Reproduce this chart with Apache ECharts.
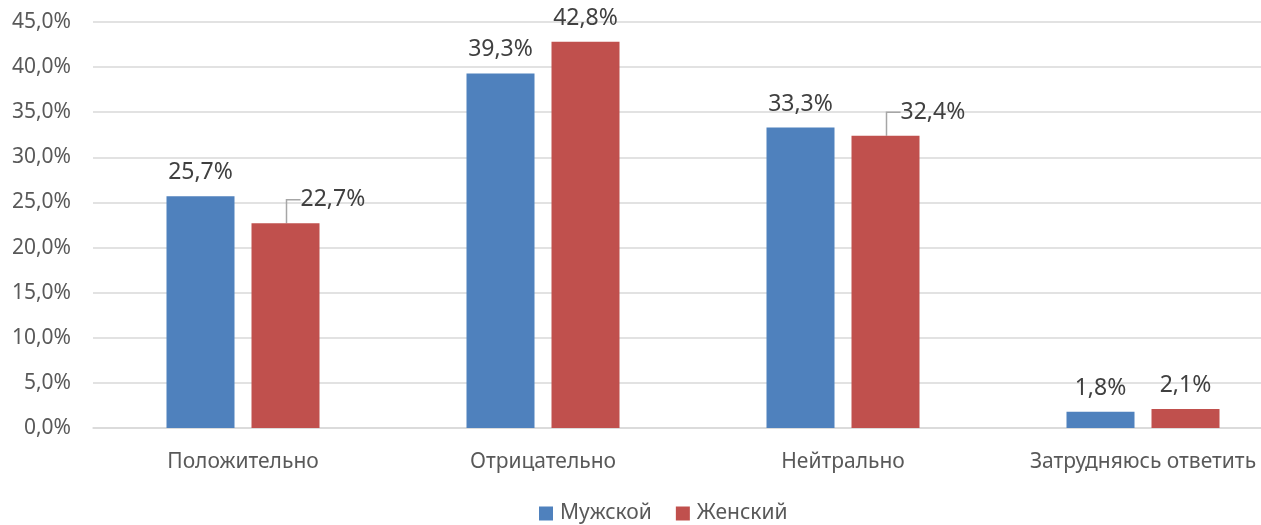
<!DOCTYPE html>
<html>
<head>
<meta charset="utf-8">
<script src="https://cdn.jsdelivr.net/npm/echarts@6/dist/echarts.min.js"></script>
<style>
  html, body { margin: 0; padding: 0; background: #fff; }
  #chart { width: 1261px; height: 525px; }
</style>
</head>
<body>
<div id="chart"></div>
<script>
// данные
const categories = ['Положительно', 'Отрицательно', 'Нейтрально', 'Затрудняюсь ответить']
const male = [25.7, 39.3, 33.3, 1.8]
const female = [22.7, 42.8, 32.4, 2.1]
const seriesNames = ['Мужской', 'Женский']
// подписи, сдвинутые вправо с выноской (как в Excel)
const movedFemale = [0, 2]

const fmt = v => v.toFixed(1).replace('.', ',') + '%'
const font = '"Noto Sans", sans-serif'

const chart = echarts.init(document.getElementById('chart'))

// прозрачный фон нужен, чтобы padding входил в рамку подписи -> выноска идёт слева
const femaleData = female.map((v, i) => movedFemale.includes(i)
  ? {
      value: v,
      label: { align: 'left', padding: [0, 44, 0, 0], backgroundColor: 'rgba(255,255,255,0)' },
      labelLine: { show: true, length2: 14 }
    }
  : { value: v })

const option = {
  animation: false,
  grid: { left: 93, top: 22, bottom: 97, width: 1200, outerBoundsMode: 'none', containLabel: false },
  legend: {
    top: 498,
    left: 534,
    itemWidth: 14,
    itemHeight: 14,
    itemGap: 24,
    icon: 'rect',
    textStyle: { fontFamily: font, fontSize: 21, color: '#595959', padding: [0, 0, 0, 2] }
  },
  xAxis: {
    type: 'category',
    data: categories,
    axisLine: { lineStyle: { color: '#d9d9d9', width: 1.5 } },
    axisTick: { show: false },
    axisLabel: { fontFamily: font, fontSize: 21, color: '#595959', margin: 24 }
  },
  yAxis: {
    type: 'value',
    min: 0,
    max: 45,
    interval: 5,
    axisLine: { show: false },
    axisTick: { show: false },
    splitLine: { lineStyle: { color: '#d9d9d9', width: 1.5 } },
    axisLabel: {
      fontFamily: font, fontSize: 21, color: '#595959', margin: 22,
      formatter: v => v.toFixed(1).replace('.', ',') + '%'
    }
  },
  series: [
    {
      name: seriesNames[0],
      type: 'bar',
      data: male,
      barWidth: 68,
      barGap: '25%',
      itemStyle: { color: '#4F81BD' },
      label: {
        show: true, position: 'top', distance: 12,
        fontFamily: font, fontSize: 23, color: '#404040',
        formatter: p => fmt(p.value)
      }
    },
    {
      name: seriesNames[1],
      type: 'bar',
      data: femaleData,
      barWidth: 68,
      barGap: '25%',
      itemStyle: { color: '#C0504D' },
      label: {
        show: true, position: 'top', distance: 12,
        fontFamily: font, fontSize: 23, color: '#404040',
        formatter: p => fmt(p.value)
      },
      labelLine: { show: false, lineStyle: { color: '#a6a6a6', width: 1.5 } },
      labelLayout: p => movedFemale.includes(p.dataIndex) ? { dx: 15, dy: 0 } : {}
    }
  ]
}

chart.setOption(option)
</script>
</body>
</html>
